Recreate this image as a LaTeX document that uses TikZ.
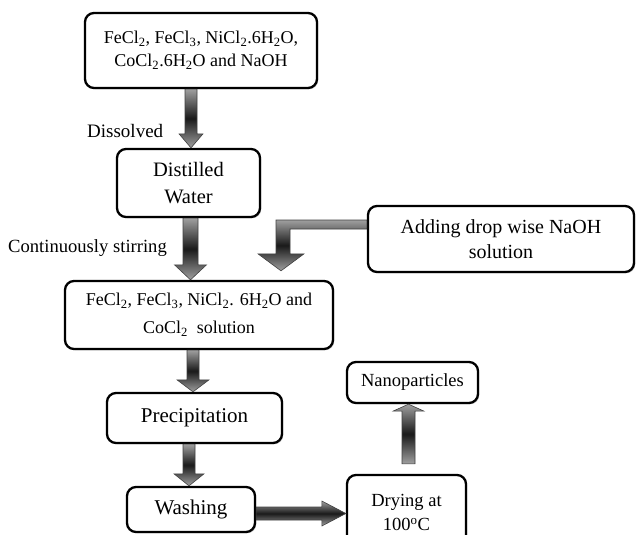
\documentclass[tikz,border=0pt]{standalone}
\usepackage{fontspec}
\setmainfont{Liberation Serif}
\usetikzlibrary{calc,shadows}
\newcommand\sbs[1]{\textsubscript{#1}}
\tikzset{
  stepbox/.style={draw=black, line width=2.3pt, rounded corners=9pt, fill=white, align=center, inner sep=0pt,
    drop shadow={shadow xshift=1.3pt, shadow yshift=-1.3pt, opacity=0.3, fill=gray}},
  blockarrow/.style={draw=black!75, line width=0.6pt, top color=gray!75, bottom color=gray!75, middle color=black!90},
  lbl/.style={inner sep=0pt, anchor=base west},
}
% #1 x, #2 from anchor, #3 to anchor, #4 shaft half width, #5 head half width, #6 head length
\newcommand\vdown[6]{%
  \path[blockarrow] let \p1=(#2), \p2=(#3) in
    (#1pt-#4pt,\y1) -- (#1pt+#4pt,\y1) -- (#1pt+#4pt,\y2+#6pt) -- (#1pt+#5pt,\y2+#6pt)
    -- (#1pt,\y2) -- (#1pt-#5pt,\y2+#6pt) -- (#1pt-#4pt,\y2+#6pt) -- cycle;}
\begin{document}
\begin{tikzpicture}[x=1pt,y=-1pt]
\useasboundingbox (0,0) rectangle (638,535);

\node[stepbox, minimum width=232pt, minimum height=75pt, font=\fontsize{18}{23}\selectfont] (b1) at (201,50.5)
  {FeCl\sbs{2}, FeCl\sbs{3}, NiCl\sbs{2}.6H\sbs{2}O,\\CoCl\sbs{2}.6H\sbs{2}O and NaOH};
\node[stepbox, minimum width=143pt, minimum height=68pt, font=\fontsize{20.5}{27}\selectfont] (b2) at (188.5,183)
  {Distilled\\Water};
\node[stepbox, minimum width=268pt, minimum height=68pt, font=\fontsize{18}{28}\selectfont] (b3) at (199,315)
  {FeCl\sbs{2}, FeCl\sbs{3}, NiCl\sbs{2}. 6H\sbs{2}O and\\CoCl\sbs{2}\ \ solution};
\node[stepbox, minimum width=266pt, minimum height=66pt, font=\fontsize{20}{25}\selectfont] (b4) at (501,239)
  {Adding drop wise NaOH\\solution};
\node[stepbox, minimum width=175pt, minimum height=50pt, font=\fontsize{21}{25}\selectfont] (b5) at (194.5,418)
  {Precipitation};
\node[stepbox, minimum width=128pt, minimum height=45pt, font=\fontsize{21}{25}\selectfont] (b6) at (191,509.5)
  {Washing};
\node[stepbox, minimum width=119pt, minimum height=75pt, font=\fontsize{18.5}{24}\selectfont] (b7) at (406.5,512.5)
  {Drying at\\100\textsuperscript{o}C};
\node[stepbox, minimum width=131pt, minimum height=41pt, font=\fontsize{18.5}{22}\selectfont] (b8) at (412.5,382.5)
  {Nanoparticles};

\node[lbl, font=\fontsize{19}{22}\selectfont] (l1) at (87,137) {Dissolved};
\node[lbl, font=\fontsize{18.6}{22}\selectfont] (l2) at (8,252) {Continuously stirring};

\vdown{191}{b1.south}{b2.north}{6}{12}{14}
\vdown{190.5}{b2.south}{b3.north}{7.5}{16}{15}
\vdown{193}{b3.south}{b5.north}{6}{16}{12}
\vdown{189}{b5.south}{b6.north}{6}{15}{12}

% up arrow Drying -> Nanoparticles
\path[blockarrow] let \p1=(b7.north), \p2=(b8.south) in
  (402pt,\y1+10pt) -- (415pt,\y1+10pt) -- (415pt,\y2-7pt) -- (424pt,\y2-7pt) -- (408.5pt,\y2)
  -- (393pt,\y2-7pt) -- (402pt,\y2-7pt) -- cycle;

% Washing -> Drying
\path[blockarrow] let \p1=(b6.east), \p2=(b7.west), \n1={\y1-4pt} in
  (\x1,\n1+6.5pt) -- (\x2-24pt,\n1+6.5pt) -- (\x2-24pt,\n1+12.5pt) -- (\x2,\n1)
  -- (\x2-24pt,\n1-12.5pt) -- (\x2-24pt,\n1-6.5pt) -- (\x1,\n1-6.5pt) -- cycle;

% bent arrow from NaOH box
\path[blockarrow] let \p1=(b4.west), \p2=(b3.north) in
  (\x1,\y1+19pt) -- (276pt,\y1+19pt) -- (276pt,\y2+26pt) -- (258pt,\y2+26pt) -- (281pt,\y2+9pt)
  -- (304pt,\y2+26pt) -- (290pt,\y2+26pt) -- (290pt,\y1+10pt) -- (\x1,\y1+10pt) -- cycle;
\end{tikzpicture}
\end{document}
